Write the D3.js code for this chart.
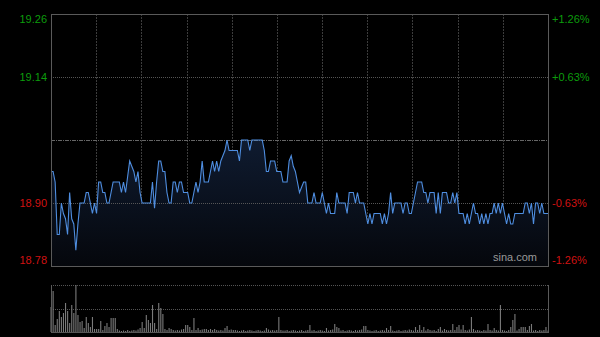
<!DOCTYPE html>
<html>
<head>
<meta charset="utf-8">
<script src="https://cdn.jsdelivr.net/npm/d3@7"></script>
<style>
  html, body { margin: 0; padding: 0; background: #000; }
  svg { display: block; }
  text { font-family: Arial, "Liberation Sans", sans-serif; font-size: 11px; }
</style>
</head>
<body>
<div id="chart"></div>
<script>
// previous close and axis ticks
var prevClose = 19.02;
var priceTicks = [19.26, 19.14, 19.02, 18.90, 18.78];

// one price per minute (241 points)
var prices = [
  18.96,18.96,18.94,18.84,18.84,18.90,18.88,18.87,18.84,18.92,18.87,18.86,18.81,18.86,18.90,18.90,18.90,18.92,18.92,18.90,
  18.88,18.90,18.88,18.94,18.94,18.92,18.92,18.90,18.90,18.92,18.94,18.94,18.94,18.94,18.92,18.94,18.92,18.95,18.98,18.97,
  18.96,18.94,18.96,18.92,18.90,18.90,18.90,18.90,18.90,18.94,18.89,18.94,18.98,18.98,18.96,18.96,18.92,18.90,18.90,18.94,
  18.94,18.92,18.94,18.94,18.92,18.92,18.92,18.90,18.90,18.92,18.94,18.92,18.94,18.98,18.94,18.94,18.94,18.96,18.98,18.96,
  18.98,18.96,18.98,18.99,19.00,19.02,19.00,19.00,19.00,19.00,19.00,18.98,19.02,19.02,19.02,19.02,19.00,19.02,19.02,19.02,
  19.02,19.02,19.02,19.00,18.96,18.96,18.98,18.98,18.98,18.96,18.96,18.96,18.94,18.94,18.94,18.98,18.99,18.97,18.96,18.94,
  18.92,18.93,18.94,18.94,18.90,18.90,18.90,18.92,18.90,18.90,18.90,18.92,18.90,18.88,18.90,18.88,18.88,18.88,18.92,18.90,
  18.90,18.90,18.90,18.88,18.92,18.92,18.92,18.90,18.92,18.90,18.90,18.90,18.88,18.86,18.88,18.86,18.88,18.88,18.88,18.88,
  18.86,18.88,18.86,18.88,18.92,18.88,18.90,18.90,18.90,18.90,18.88,18.90,18.90,18.88,18.88,18.90,18.92,18.94,18.94,18.94,
  18.92,18.92,18.90,18.92,18.92,18.92,18.88,18.92,18.88,18.92,18.92,18.92,18.90,18.90,18.92,18.90,18.92,18.88,18.88,18.88,
  18.86,18.88,18.86,18.88,18.90,18.88,18.88,18.86,18.88,18.86,18.88,18.86,18.88,18.88,18.90,18.88,18.90,18.88,18.90,18.88,
  18.86,18.88,18.86,18.86,18.88,18.88,18.88,18.88,18.88,18.90,18.90,18.88,18.90,18.86,18.90,18.90,18.88,18.90,18.88,18.88,
  18.88
];

// volume per minute (hundreds of lots)
var volumes = [
  250,410,70,130,210,150,190,290,210,90,270,190,470,170,100,110,40,150,90,50,
  150,30,30,30,110,20,60,90,50,140,140,140,30,15,10,15,10,20,10,15,
  20,15,25,40,100,40,170,120,90,270,90,30,290,240,180,30,20,40,30,20,
  15,20,15,25,30,70,70,50,20,140,20,40,20,25,30,30,20,30,20,30,
  20,15,20,15,40,60,20,25,20,20,15,10,15,20,10,15,20,15,10,15,
  20,15,10,15,40,25,15,20,15,20,150,20,15,15,20,10,15,20,15,10,
  15,20,10,15,20,70,15,20,10,15,20,15,10,40,15,20,25,80,50,40,
  15,20,10,15,20,15,10,20,15,20,25,60,60,20,15,10,15,20,10,15,
  20,15,40,20,60,15,10,15,20,10,15,20,15,25,20,15,50,20,70,20,
  50,15,30,20,15,20,10,30,50,15,30,20,15,20,80,20,50,70,25,70,
  20,15,25,150,30,15,20,15,10,20,15,80,20,15,40,20,15,270,20,15,
  10,20,50,120,180,15,30,50,50,50,20,60,80,15,20,10,20,15,20,50,15
];

var width = 600, height = 337;
var plot = {left: 51, right: 548, top: 14, bottom: 266};
var vol = {top: 285, bottom: 332};

var svg = d3.select("#chart").append("svg")
    .attr("width", width)
    .attr("height", height)
    .style("background", "#000");

var x = d3.scaleLinear().domain([0, prices.length - 1]).range([plot.left, plot.right]);
var y = d3.scaleLinear().domain([18.78, 19.26]).range([plot.bottom, plot.top]);
var yVol = d3.scaleLinear().domain([0, d3.max(volumes)]).range([vol.bottom, vol.top]);

var defs = svg.append("defs");
var grad = defs.append("linearGradient")
    .attr("id", "areaFill")
    .attr("x1", 0).attr("y1", 0).attr("x2", 0).attr("y2", 1);
grad.append("stop").attr("offset", "0%").attr("stop-color", "#0f1b30");
grad.append("stop").attr("offset", "100%").attr("stop-color", "#05070c");

// vertical grid (11 equal sections)
var gridX = d3.range(1, 11).map(function(k) { return k * (prices.length - 1) / 11; });
svg.append("g").selectAll("line").data(gridX).enter().append("line")
    .attr("x1", function(d) { return Math.round(x(d)) + 0.5; })
    .attr("x2", function(d) { return Math.round(x(d)) + 0.5; })
    .attr("y1", plot.top).attr("y2", plot.bottom)
    .attr("stroke", "#3c3c3c")
    .attr("stroke-dasharray", "2,1");

// area + line
var area = d3.area()
    .x(function(d, i) { return x(i); })
    .y0(plot.bottom)
    .y1(function(d) { return y(d); });
var line = d3.line()
    .x(function(d, i) { return x(i); })
    .y(function(d) { return y(d); });

svg.append("path").datum(prices)
    .attr("d", area)
    .attr("fill", "url(#areaFill)");

// horizontal grid
svg.append("g").selectAll("line").data(priceTicks.slice(1, 4)).enter().append("line")
    .attr("x1", plot.left).attr("x2", plot.right)
    .attr("y1", function(d) { return Math.round(y(d)) + 0.5; })
    .attr("y2", function(d) { return Math.round(y(d)) + 0.5; })
    .attr("stroke", function(d) { return d === prevClose ? "#666" : "#555"; })
    .attr("stroke-dasharray", function(d) { return d === prevClose ? "4,1,1,1" : "1,1"; });

svg.append("path").datum(prices)
    .attr("d", line)
    .attr("fill", "none")
    .attr("stroke", "#4f8ee0")
    .attr("stroke-width", 1.1);

// frame
svg.append("rect")
    .attr("x", plot.left + 0.5).attr("y", plot.top + 0.5)
    .attr("width", plot.right - plot.left).attr("height", plot.bottom - plot.top)
    .attr("fill", "none")
    .attr("stroke", "#5a5a5a");

// labels
function pct(p) {
  var v = (p - prevClose) / prevClose * 100;
  return (v > 0 ? "+" : "") + v.toFixed(2) + "%";
}
function labelY(d, i) {
  if (i === 0) return plot.top + 5;
  if (i === priceTicks.length - 1) return plot.bottom - 6;
  return y(d);
}
function labelColor(d) { return d > prevClose ? "#0c9c0c" : "#d01212"; }
var shown = priceTicks.filter(function(d) { return d !== prevClose; });

svg.append("g").selectAll("text").data(shown).enter().append("text")
    .attr("x", plot.left - 4)
    .attr("y", function(d) { return labelY(d, priceTicks.indexOf(d)); })
    .attr("dy", "0.35em")
    .attr("text-anchor", "end")
    .attr("fill", labelColor)
    .text(function(d) { return d.toFixed(2); });

svg.append("g").selectAll("text").data(shown).enter().append("text")
    .attr("x", plot.right + 4)
    .attr("y", function(d) { return labelY(d, priceTicks.indexOf(d)); })
    .attr("dy", "0.35em")
    .attr("fill", labelColor)
    .text(pct);

svg.append("text")
    .attr("x", plot.right - 11)
    .attr("y", plot.bottom - 5)
    .attr("text-anchor", "end")
    .attr("fill", "#9a9a9a")
    .text("sina.com");

// volume panel
var midVol = (vol.top + vol.bottom) / 2;
svg.append("g").selectAll("line").data([vol.top, Math.round(midVol)]).enter().append("line")
    .attr("x1", plot.left).attr("x2", plot.right)
    .attr("y1", function(d) { return d + 0.5; }).attr("y2", function(d) { return d + 0.5; })
    .attr("stroke", "#555")
    .attr("stroke-dasharray", "1,1");

svg.append("g").selectAll("rect").data(volumes).enter().append("rect")
    .attr("x", function(d, i) { return x(i) - 0.5; })
    .attr("y", function(d) { return yVol(d); })
    .attr("width", 1.1)
    .attr("height", function(d) { return vol.bottom - yVol(d); })
    .attr("fill", "#7a7a7a");

svg.append("line")
    .attr("x1", plot.left).attr("x2", plot.right)
    .attr("y1", vol.bottom + 0.5).attr("y2", vol.bottom + 0.5)
    .attr("stroke", "#555");
svg.append("g").selectAll("line").data([plot.left, plot.right]).enter().append("line")
    .attr("x1", function(d) { return d + 0.5; }).attr("x2", function(d) { return d + 0.5; })
    .attr("y1", vol.top).attr("y2", vol.bottom + 1)
    .attr("stroke", "#5a5a5a");
</script>
</body>
</html>
